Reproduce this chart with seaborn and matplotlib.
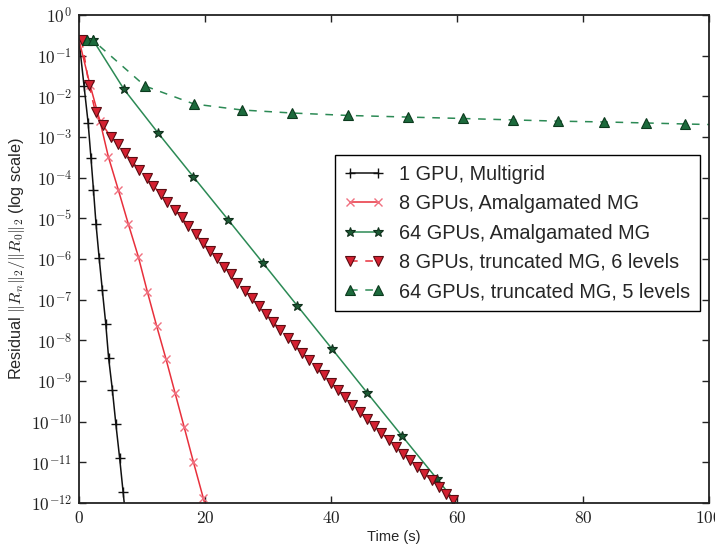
import numpy as np
import matplotlib
matplotlib.use("Agg")
import matplotlib.pyplot as plt
import seaborn as sns
from matplotlib.ticker import FixedLocator, NullLocator, FuncFormatter

t_1gpu = [0, 0.8, 1.45, 1.9, 2.3, 2.7, 3.2, 3.7, 4.25, 4.7, 5.3, 5.85, 6.45, 7.0, 7.55, 8.1]
e_1gpu = [-0.615, -1.746, -2.656, -3.516, -4.303, -5.139, -5.975, -6.762, -7.598, -8.434,
          -9.221, -10.057, -10.893, -11.729, -12.56, -13.4]

t_8amg = [0, 1.75, 3.33, 4.65, 6.24, 7.83, 9.41, 10.84, 12.33, 13.81, 15.24, 16.67, 18.14, 19.73, 21.2]
e_8amg = [-0.615, -1.72, -2.61, -3.48, -4.30, -5.14, -5.94, -6.80, -7.65, -8.46, -9.29, -10.12,
          -10.98, -11.88, -12.73]

t_64amg = [2.22, 7.14, 12.59, 18.14, 23.70, 29.16, 34.68, 40.21, 45.71, 51.27, 56.83, 62.38]
e_64amg = [-0.615, -1.827, -2.909, -3.976, -5.04, -6.09, -7.155, -8.22, -9.284, -10.35, -11.41, -12.47]

t_8trunc = [0.43, 1.59, 2.62, 3.81, 5.03, 6.24, 7.30, 8.46, 9.57, 10.75, 11.79, 12.97, 14.02,
            15.19, 16.30, 17.35, 18.57, 19.63, 20.79, 21.86, 23.02, 24.08, 25.13, 26.35, 27.41,
            28.56, 29.70, 30.84, 31.98, 33.13, 34.27, 35.41, 36.56, 37.70, 38.84, 39.98, 41.13,
            42.27, 43.41, 44.56, 45.70, 46.84, 47.98, 49.13, 50.27, 51.41, 52.56, 53.70, 54.84,
            55.98, 57.13, 58.27, 59.41]
e_8trunc = [-0.615, -1.721, -2.397, -2.717, -2.992, -3.179, -3.386, -3.607, -3.811, -4.001,
            -4.205, -4.401, -4.591, -4.795, -4.974, -5.188, -5.392, -5.599, -5.795, -5.982,
            -6.189, -6.368, -6.582, -6.779, -6.966, -7.163, -7.357, -7.551, -7.743, -7.932,
            -8.121, -8.308, -8.495, -8.680, -8.864, -9.046, -9.226, -9.405, -9.582, -9.759,
            -9.934, -10.106, -10.278, -10.450, -10.620, -10.787, -10.954, -11.119, -11.284,
            -11.446, -11.608, -11.768, -11.925]

t_64trunc = [1.22, 2.17, 10.48, 18.25, 25.87, 33.81, 42.7, 52.2, 60.95, 68.9, 76.0, 83.3, 90.0, 96.2, 102.0]
e_64trunc = [-0.615, -0.615, -1.746, -2.188, -2.336, -2.41, -2.47, -2.51, -2.545, -2.58, -2.61,
             -2.63, -2.655, -2.68, -2.70]

labels = ["1 GPU, Multigrid", "8 GPUs, Amalgamated MG", "64 GPUs, Amalgamated MG",
          "8 GPUs, truncated MG, 6 levels", "64 GPUs, truncated MG, 5 levels"]
x_ticks = [0, 20, 40, 60, 80, 100]
y_decades = list(range(-12, 1))

# ---- style ----
sns.set_theme(style="ticks")
plt.rcParams["font.family"] = ["Liberation Sans", "DejaVu Sans"]
plt.rcParams["mathtext.fontset"] = "cm"
plt.rcParams["axes.edgecolor"] = "#222222"
plt.rcParams["axes.linewidth"] = 1.3

fig = plt.figure(figsize=(7.15, 5.46), dpi=100)
ax = fig.add_axes([79 / 715, 1 - 503 / 546, 630 / 715, 488 / 546])

red = "#e8303c"
green = "#2c8a55"

sns.lineplot(x=t_1gpu, y=10.0 ** np.array(e_1gpu), ax=ax, color="#111111", lw=1.1,
             marker="+", ms=7, mew=1.0, mec="#111111", errorbar=None, label=labels[0])
sns.lineplot(x=t_8amg, y=10.0 ** np.array(e_8amg), ax=ax, color=red, lw=1.1,
             marker="x", ms=6, mew=1.0, mec="#f07080", errorbar=None, label=labels[1])
sns.lineplot(x=t_64amg, y=10.0 ** np.array(e_64amg), ax=ax, color=green, lw=1.1,
             marker="*", ms=7, mew=0.8, mfc="#1c5a34", mec="#10301c", errorbar=None, label=labels[2])
sns.lineplot(x=t_8trunc, y=10.0 ** np.array(e_8trunc), ax=ax, color=red, lw=1.1,
             linestyle=(0, (5, 5)), marker="v", ms=7, mew=0.8, mfc="#d42030", mec="#5a0c12",
             errorbar=None, label=labels[3])
sns.lineplot(x=t_64trunc, y=10.0 ** np.array(e_64trunc), ax=ax, color=green, lw=1.1,
             linestyle=(0, (5, 5)), marker="^", ms=7, mew=0.8, mfc="#1c6a3c", mec="#0c3a1e",
             errorbar=None, label=labels[4])

ax.set_yscale("log")
ax.set_xlim(0, 100)
ax.set_ylim(1e-12, 1)
ax.yaxis.set_major_locator(FixedLocator([10.0 ** d for d in y_decades]))
ax.yaxis.set_major_formatter(FuncFormatter(lambda v, p: f"$10^{{{int(round(np.log10(v)))}}}$"))
ax.yaxis.set_minor_locator(NullLocator())
ax.xaxis.set_major_locator(FixedLocator(x_ticks))
ax.xaxis.set_major_formatter(FuncFormatter(lambda v, p: f"${v:g}$"))
ax.xaxis.set_minor_locator(NullLocator())
ax.tick_params(direction="in", top=True, right=True, length=5, width=1,
               labelsize=12.5, pad=5, colors="#222222")

ax.set_xlabel("Time (s)", fontsize=10.5, labelpad=3)
ax.set_ylabel(r"Residual $\|R_n\|_2/\|R_0\|_2$ (log scale)", fontsize=11.7, labelpad=3)
ax.grid(False)

leg = ax.legend(loc="upper right", bbox_to_anchor=(0.986, 0.713), numpoints=2, fontsize=14.3,
                frameon=True, fancybox=False, edgecolor="black", framealpha=1,
                borderaxespad=0, handlelength=2.0, labelspacing=0.52, borderpad=0.5,
                handletextpad=0.75)
leg.get_frame().set_linewidth(1.0)

fig.savefig("out.png", dpi=100)
